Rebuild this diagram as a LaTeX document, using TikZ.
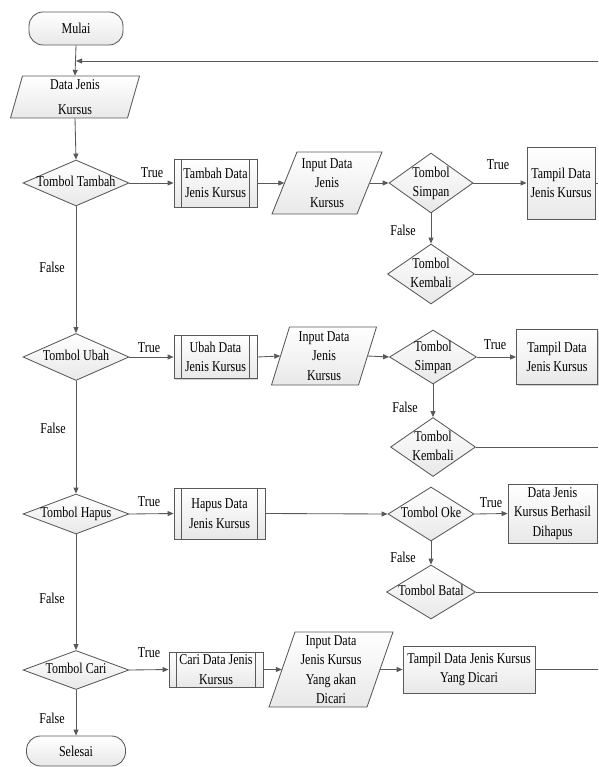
\documentclass[tikz,border=0pt]{standalone}
\usepackage{fontspec}
\setmainfont{Liberation Serif}[FakeStretch=0.8]
\usetikzlibrary{shapes.geometric,arrows.meta,shadows}
\newcommand\dt[1]{\makebox[0pt]{\begin{tabular}{@{}c@{}}#1\end{tabular}}}
\tikzset{
  every node/.style={font=\fontsize{15}{19.5}\selectfont},
  line/.style={draw=black!65, line width=0.85pt},
  arr/.style={line, -{Triangle[length=6pt,width=5pt]}},
  shapefill/.style={top color=white, bottom color=black!9},
  shad/.style={drop shadow={shadow xshift=1.2pt, shadow yshift=-1.2pt, fill=black!35, opacity=0.5}},
  term/.style={line, shapefill, rounded corners=14pt, inner sep=0, align=center},
  dec/.style={diamond, line, shapefill, inner sep=0},
  proc/.style={rectangle, line, shapefill, shad, inner sep=0, align=center},
  lab/.style={inner sep=0}
}
\newcommand\subbars[1]{\draw[line] ([xshift=8pt]#1.north west) -- ([xshift=8pt]#1.south west) ([xshift=-8pt]#1.north east) -- ([xshift=-8pt]#1.south east);}
% name, x, y, w, h, slant, text
\newcommand\paranode[7]{%
  \path[line,shapefill] (#2+#6-#4/2,#3-#5/2) -- (#2+#6+#4/2,#3-#5/2) -- (#2-#6+#4/2,#3+#5/2) -- (#2-#6-#4/2,#3+#5/2) -- cycle;
  \node[minimum width=#4pt, minimum height=#5pt, inner sep=0, align=center] (#1) at (#2,#3) {#7};}
\begin{document}
\begin{tikzpicture}[x=1pt,y=-1pt]
\useasboundingbox (0,0) rectangle (598,767);
% column 1
\node[term, minimum width=94pt, minimum height=33pt] (mulai) at (76,28.5) {Mulai};
\paranode{data}{75}{97}{117}{42}{6}{Data Jenis\\[6pt]Kursus}
\node[dec, minimum width=106pt, minimum height=46pt] (tambah) at (76,183) {\dt{Tombol Tambah}};
\node[dec, minimum width=106pt, minimum height=47pt] (ubah) at (76,357) {\dt{Tombol Ubah}};
\node[dec, minimum width=106pt, minimum height=40pt] (hapus) at (76,514) {\dt{Tombol Hapus}};
\node[dec, minimum width=106pt, minimum height=39pt] (cari) at (76,670) {\dt{Tombol Cari}};
\node[term, minimum width=99pt, minimum height=30pt] (selesai) at (76,751) {Selesai};
% row 1
\node[proc, minimum width=83pt, minimum height=48pt] (tambahp) at (215.5,183) {Tambah Data\\Jenis Kursus};
\subbars{tambahp}
\paranode{input1}{327}{183}{85}{62}{12.5}{Input Data\\Jenis\\Kursus}
\node[dec, minimum width=84pt, minimum height=60pt] (simpan1) at (431,183) {\dt{Tombol\\Simpan}};
\node[proc, minimum width=68pt, minimum height=72pt] (tampil1) at (561,183) {Tampil Data\\Jenis Kursus};
\node[dec, minimum width=87pt, minimum height=60pt] (kembali1) at (431,274) {\dt{Tombol\\Kembali}};
% row 2
\node[proc, minimum width=83pt, minimum height=43pt] (ubahp) at (215.5,357) {Ubah Data\\Jenis Kursus};
\subbars{ubahp}
\paranode{input2}{324}{356}{87}{58}{9}{Input Data\\Jenis\\Kursus}
\node[dec, minimum width=87pt, minimum height=54pt] (simpan2) at (433,357) {\dt{Tombol\\Simpan}};
\node[proc, minimum width=81pt, minimum height=55pt] (tampil2) at (557,357) {Tampil Data\\Jenis Kursus};
\node[dec, minimum width=85pt, minimum height=59pt] (kembali2) at (433,447) {\dt{Tombol\\Kembali}};
% row 3
\node[proc, minimum width=91pt, minimum height=51pt] (hapusp) at (219.5,513.5) {Hapus Data\\Jenis Kursus};
\subbars{hapusp}
\node[dec, minimum width=86pt, minimum height=54pt] (oke) at (431,514) {\dt{Tombol Oke}};
\node[proc, minimum width=89pt, minimum height=59pt] (berhasil) at (552.5,513.5) {Data Jenis\\Kursus Berhasil\\Dihapus};
\node[dec, minimum width=89pt, minimum height=54pt] (batal) at (431,592) {\dt{Tombol Batal}};
% row 4
\node[proc, minimum width=94pt, minimum height=35pt] (carip) at (216,669.5) {Cari Data Jenis\\Kursus};
\subbars{carip}
\paranode{input3}{331}{669.5}{98}{75}{13}{Input Data\\Jenis Kursus\\Yang akan\\Dicari}
\node[proc, minimum width=132pt, minimum height=47pt] (tampil3) at (469,669.5) {Tampil Data Jenis Kursus\\Yang Dicari};
% right-edge coordinates
\coordinate (ret) at (598,61);
\coordinate (e1) at (598,183);
\coordinate (e2) at (598,274);
\coordinate (e3) at (598,447);
\coordinate (e4) at (598,592);
\coordinate (e5) at (598,669.5);
% labels
\node[lab] (t1) at (152,173) {True};
\node[lab] (f1) at (52,267) {False};
\node[lab] (t1s) at (498,165) {True};
\node[lab] (f1s) at (403,230) {False};
\node[lab] (t2) at (149,348) {True};
\node[lab] (f2) at (53,428) {False};
\node[lab] (t2s) at (495,345) {True};
\node[lab] (f2s) at (405,407) {False};
\node[lab] (t3) at (149,502) {True};
\node[lab] (f3) at (52,598) {False};
\node[lab] (t3s) at (491,503) {True};
\node[lab] (f3s) at (403,557) {False};
\node[lab] (t4) at (149,653) {True};
\node[lab] (f4) at (52,718) {False};
% connectors
\draw[arr] (mulai.south) -- (data.north);
\draw[arr] (ret) -- (ret -| mulai.south);
\draw[arr] (data.south) -- (tambah.north);
\draw[arr] (tambah.east) -- (tambahp.west);
\draw[arr] (tambahp.east) -- (input1.west);
\draw[arr] (input1.east) -- (simpan1.west);
\draw[arr] (simpan1.east) -- (tampil1.west);
\draw[line] (tampil1.east) -- (e1);
\draw[arr] (simpan1.south) -- (kembali1.north);
\draw[line] (kembali1.east) -- (e2);
\draw[arr] (tambah.south) -- (ubah.north);
\draw[arr] (ubah.east) -- (ubahp.west);
\draw[arr] (ubahp.east) -- (input2.west);
\draw[arr] (input2.east) -- (simpan2.west);
\draw[arr] (simpan2.east) -- (tampil2.west);
\draw[arr] (simpan2.south) -- (kembali2.north);
\draw[line] (kembali2.east) -- (e3);
\draw[arr] (ubah.south) -- (hapus.north);
\draw[arr] (hapus.east) -- (hapusp.west);
\draw[arr] (hapusp.east) -- (oke.west);
\draw[arr] (oke.east) -- (berhasil.west);
\draw[arr] (oke.south) -- (batal.north);
\draw[line] (batal.east) -- (e4);
\draw[arr] (hapus.south) -- (cari.north);
\draw[arr] (cari.east) -- (carip.west);
\draw[arr] (carip.east) -- (input3.west);
\draw[arr] (input3.east) -- (tampil3.west);
\draw[line] (tampil3.east) -- (e5);
\draw[arr] (cari.south) -- (selesai.north);
\end{tikzpicture}
\end{document}
